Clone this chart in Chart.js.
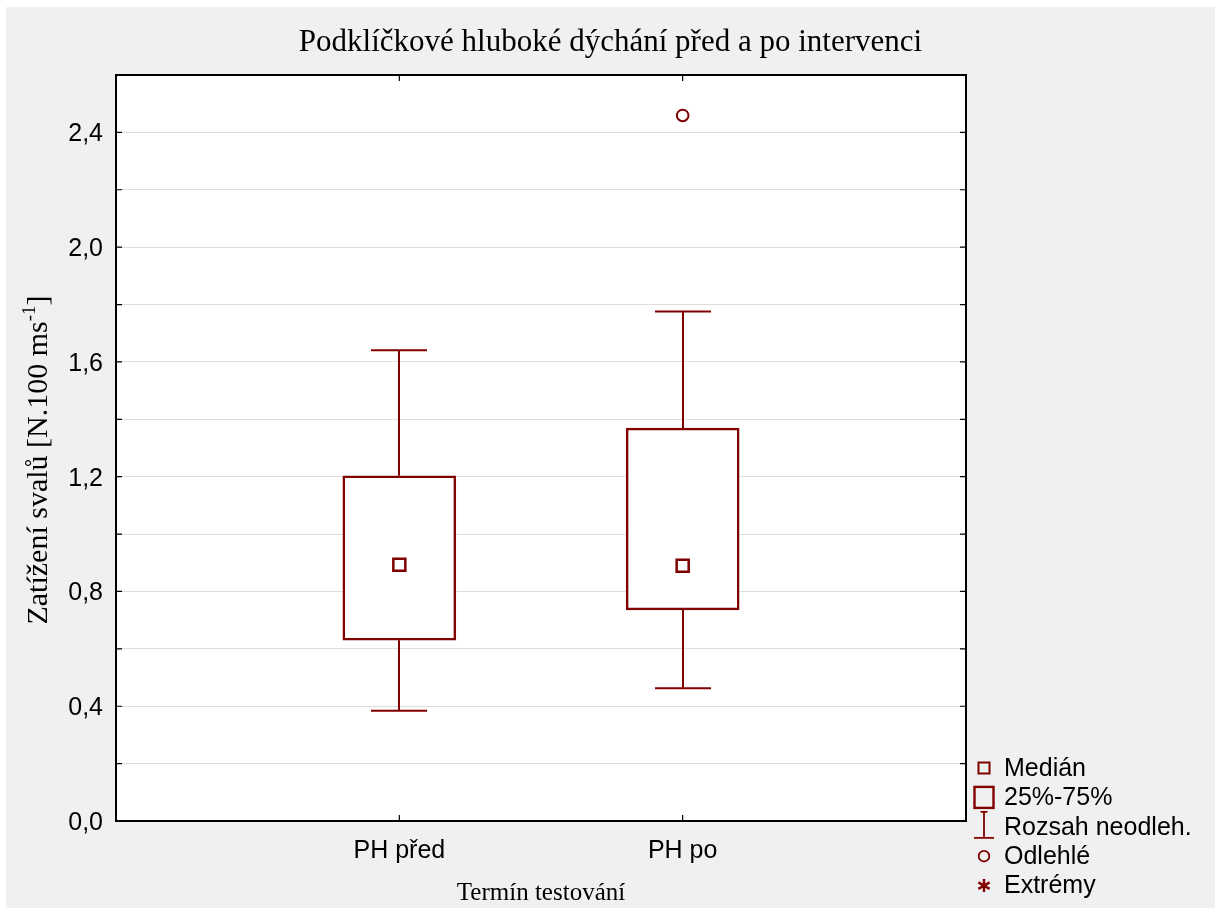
<!DOCTYPE html>
<html>
<head>
<meta charset="utf-8">
<script src="https://cdn.jsdelivr.net/npm/chart.js@4.4.0/dist/chart.umd.min.js"></script>
<style>
html,body{margin:0;padding:0;background:#fff;}
#wrap{width:1221px;height:908px;}
canvas{display:block;}
</style>
</head>
<body>
<div id="wrap"><canvas id="c" width="1221" height="908"></canvas></div>
<script>
// ---- data ----
const categories = ['PH před', 'PH po'];
const whiskerLow = [0.384, 0.463];
const q1 = [0.630, 0.736];
const medians = [0.893, 0.890];
const q3 = [1.203, 1.369];
const whiskerHigh = [1.641, 1.776];
const outliers = [[], [2.459]];
const yTickLabels = ['0,0', '0,4', '0,8', '1,2', '1,6', '2,0', '2,4'];
const legendLabels = ['Medián', '25%-75%', 'Rozsah neodleh.', 'Odlehlé', 'Extrémy'];
const chartTitle = 'Podklíčkové hluboké dýchání před a po intervenci';
const xTitle = 'Termín testování';
const yTitleMain = 'Zatížení svalů [N.100 ms';
const yTitleSup = '-1';
const yTitleEnd = ']';

const DARK = '#800000';
const SANS = "'Liberation Sans', Arial, sans-serif";
const SERIF = "'Liberation Serif', 'Times New Roman', serif";

const extras = {
  id: 'extras',
  beforeDraw(chart) {
    const {ctx, chartArea: a} = chart;
    ctx.save();
    ctx.fillStyle = '#ffffff';
    ctx.fillRect(0, 0, chart.width, chart.height);
    ctx.fillStyle = '#f0f0f0';
    ctx.fillRect(6, 7, chart.width - 12, chart.height - 7);
    ctx.fillStyle = '#ffffff';
    ctx.fillRect(a.left, a.top, a.right - a.left, a.bottom - a.top);
    ctx.restore();
  },
  beforeDatasetsDraw(chart) {
    const {ctx} = chart;
    const xs = chart.scales.x, ys = chart.scales.y;
    ctx.save();
    ctx.strokeStyle = DARK;
    ctx.lineWidth = 2;
    const capHalf = 28;
    categories.forEach((c, i) => {
      const x = Math.round(xs.getPixelForValue(i + 1));
      const yHi = ys.getPixelForValue(whiskerHigh[i]);
      const yQ3 = ys.getPixelForValue(q3[i]);
      const yQ1 = ys.getPixelForValue(q1[i]);
      const yLo = ys.getPixelForValue(whiskerLow[i]);
      ctx.beginPath();
      ctx.moveTo(x, yQ3); ctx.lineTo(x, yHi);
      ctx.moveTo(x - capHalf, yHi); ctx.lineTo(x + capHalf, yHi);
      ctx.moveTo(x, yQ1); ctx.lineTo(x, yLo);
      ctx.moveTo(x - capHalf, yLo); ctx.lineTo(x + capHalf, yLo);
      ctx.stroke();
    });
    ctx.restore();
  },
  afterDraw(chart) {
    const {ctx, chartArea: a} = chart;
    const xs = chart.scales.x, ys = chart.scales.y;
    ctx.save();
    // frame
    ctx.strokeStyle = '#000';
    ctx.lineWidth = 2;
    ctx.strokeRect(a.left, a.top, a.right - a.left, a.bottom - a.top);
    // inward ticks
    ctx.lineWidth = 1.2;
    ctx.beginPath();
    ys.ticks.forEach(t => {
      const y = ys.getPixelForValue(t.value);
      ctx.moveTo(a.left, y); ctx.lineTo(a.left + 6, y);
      ctx.moveTo(a.right, y); ctx.lineTo(a.right - 6, y);
    });
    categories.forEach((c, i) => {
      const x = xs.getPixelForValue(i + 1);
      ctx.moveTo(x, a.bottom); ctx.lineTo(x, a.bottom - 6);
      ctx.moveTo(x, a.top); ctx.lineTo(x, a.top + 6);
    });
    ctx.stroke();

    // chart title
    ctx.fillStyle = '#000';
    ctx.font = '31px ' + SERIF;
    ctx.textAlign = 'center';
    ctx.textBaseline = 'alphabetic';
    ctx.fillText(chartTitle, chart.width / 2, 51);

    // x title
    ctx.font = '25px ' + SERIF;
    ctx.fillText(xTitle, (a.left + a.right) / 2, 900);

    // y title (rotated, with superscript)
    ctx.save();
    ctx.translate(47, 460);
    ctx.rotate(-Math.PI / 2);
    ctx.textAlign = 'left';
    const mainFont = '30px ' + SERIF, supFont = '19px ' + SERIF;
    ctx.font = mainFont; const w1 = ctx.measureText(yTitleMain).width; const w3 = ctx.measureText(yTitleEnd).width;
    ctx.font = supFont; const w2 = ctx.measureText(yTitleSup).width;
    let px = -(w1 + w2 + w3) / 2;
    ctx.font = mainFont; ctx.fillText(yTitleMain, px, 0); px += w1;
    ctx.font = supFont; ctx.fillText(yTitleSup, px, -12); px += w2;
    ctx.font = mainFont; ctx.fillText(yTitleEnd, px, 0);
    ctx.restore();

    // legend
    const lx = 984, tx = 1004;
    const rows = legendLabels.map((l, i) => 768 + i * 29.4);
    ctx.font = '25px ' + SANS;
    ctx.textAlign = 'left';
    ctx.textBaseline = 'middle';
    ctx.fillStyle = '#000';
    legendLabels.forEach((l, i) => ctx.fillText(l, tx, rows[i] + 1));
    ctx.strokeStyle = DARK;
    ctx.fillStyle = DARK;
    // median
    ctx.lineWidth = 2;
    ctx.strokeRect(lx - 5.5, rows[0] - 5.5, 11, 11);
    // box
    ctx.lineWidth = 2.4;
    ctx.strokeRect(lx - 9.5, rows[1] - 10.5, 19, 21);
    // whisker
    ctx.lineWidth = 1.8;
    ctx.beginPath();
    ctx.moveTo(lx, rows[2] - 15); ctx.lineTo(lx, rows[2] + 11);
    ctx.moveTo(lx - 3.5, rows[2] - 15); ctx.lineTo(lx + 3.5, rows[2] - 15);
    ctx.moveTo(lx - 10, rows[2] + 11); ctx.lineTo(lx + 10, rows[2] + 11);
    ctx.stroke();
    // outlier
    ctx.lineWidth = 1.8;
    ctx.beginPath();
    ctx.arc(lx, rows[3], 5.3, 0, Math.PI * 2);
    ctx.stroke();
    // extremes (asterisk)
    ctx.lineWidth = 2.4;
    ctx.beginPath();
    const r = 6.5;
    [90, 30, 150].forEach(deg => {
      const rad = deg * Math.PI / 180;
      ctx.moveTo(lx - r * Math.cos(rad), rows[4] - r * Math.sin(rad));
      ctx.lineTo(lx + r * Math.cos(rad), rows[4] + r * Math.sin(rad));
    });
    ctx.stroke();
    ctx.restore();
  }
};

new Chart(document.getElementById('c'), {
  type: 'bar',
  data: {
    datasets: [
      {
        type: 'scatter',
        label: legendLabels[0],
        data: medians.map((m, i) => ({x: i + 1, y: m})),
        pointStyle: 'rect',
        pointRadius: 8.5,
        pointBorderWidth: 2.5,
        pointBackgroundColor: '#ffffff',
        pointBorderColor: DARK,
        order: 0
      },
      {
        type: 'scatter',
        label: legendLabels[3],
        data: outliers.flatMap((arr, i) => arr.map(v => ({x: i + 1, y: v}))),
        pointStyle: 'circle',
        pointRadius: 5.8,
        pointBorderWidth: 2,
        pointBackgroundColor: '#ffffff',
        pointBorderColor: DARK,
        order: 0
      },
      {
        type: 'bar',
        label: legendLabels[1],
        data: q1.map((v, i) => ({x: i + 1, y: [v, q3[i]]})),
        backgroundColor: '#ffffff',
        borderColor: DARK,
        borderWidth: 2.5,
        borderSkipped: false,
        barThickness: 113,
        order: 1
      }
    ]
  },
  options: {
    responsive: false,
    animation: false,
    events: [],
    layout: {padding: {left: 0, top: 75, right: 255, bottom: 0}},
    plugins: {legend: {display: false}, title: {display: false}, tooltip: {enabled: false}},
    scales: {
      x: {
        type: 'linear',
        min: 0, max: 3,
        offset: false,
        grid: {display: false, offset: false},
        border: {display: false},
        afterFit: s => { s.height = 87; },
        ticks: {
          stepSize: 1,
          autoSkip: false,
          maxRotation: 0,
          padding: 7,
          color: '#000',
          font: {family: SANS, size: 25},
          callback: v => categories[v - 1] !== undefined && Number.isInteger(v) ? categories[v - 1] : ''
        }
      },
      y: {
        type: 'linear',
        min: 0, max: 2.6,
        grid: {color: '#dedede', lineWidth: 1, drawTicks: false},
        border: {display: false},
        afterFit: s => { s.width = 116; },
        ticks: {
          stepSize: 0.2,
          autoSkip: false,
          padding: 13,
          labelOffset: 2,
          color: '#000',
          font: {family: SANS, size: 25},
          callback: v => {
            const k = Math.round(v * 10);
            return k % 4 === 0 ? yTickLabels[k / 4] : '';
          }
        }
      }
    }
  },
  plugins: [extras]
});
</script>
</body>
</html>
